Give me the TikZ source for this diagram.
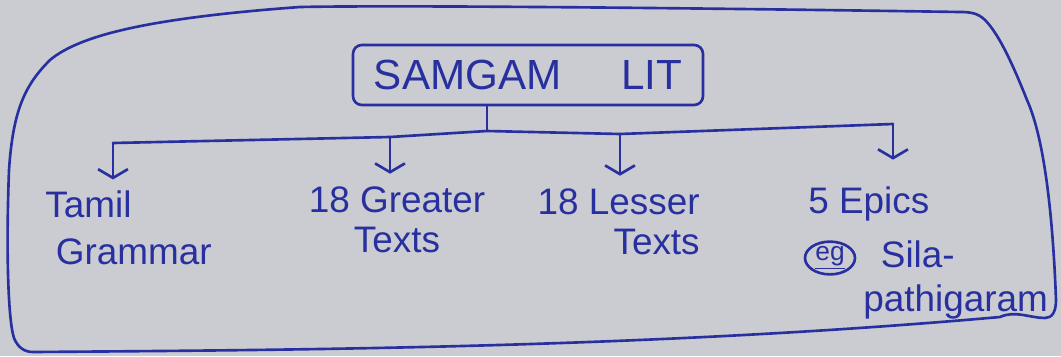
\documentclass[tikz,border=0pt]{standalone}
\usepackage{fontspec}
\setmainfont{Liberation Sans}
\usetikzlibrary{arrows.meta,shapes.geometric}
\definecolor{ink}{RGB}{40,48,160}
\definecolor{paper}{RGB}{203,204,209}
\begin{document}
\begin{tikzpicture}[x=0.02cm,y=-0.02cm,
  inkline/.style={draw=ink,line width=1.5pt,line cap=round,line join=round},
  droparrow/.style={inkline,-{Straight Barb[length=5pt,width=17pt,line width=1.5pt]}},
  hand/.style={text=ink,font=\fontsize{21}{23}\selectfont,inner sep=0pt}]
\fill[paper] (0,0) rectangle (1061,356);
\useasboundingbox (0,0) rectangle (1061,356);
% outer border
\draw[inkline] (33,352) .. controls (300,350) and (650,348) .. (1000,317)
  .. controls (1015,310) and (1030,318) .. (1045,318)
  .. controls (1052,318) and (1056,312) .. (1056,300)
  .. controls (1053,220) and (1045,140) .. (1027,100)
  .. controls (1015,70) and (1000,35) .. (985,20)
  .. controls (978,13) and (970,12) .. (960,12)
  .. controls (700,8) and (400,5) .. (300,7)
  .. controls (150,18) and (80,35) .. (50,60)
  .. controls (25,85) and (13,110) .. (9,170)
  .. controls (6,250) and (8,320) .. (14,338)
  .. controls (18,348) and (25,352) .. cycle;
% root
\node[inkline,text=ink,rounded corners=5pt,minimum width=7cm,minimum height=1.2cm,
  font=\fontsize{24}{28}\selectfont] (root) at (528,75) {SAMGAM\hspace{34pt}LIT};
% children
\node[hand,align=left,anchor=north west] (tamil) at (45,190) {Tamil\\[4pt]\hspace{6pt}Grammar};
\node[hand,align=center,anchor=north] (greater) at (397,186) {18 Greater\\Texts};
\node[hand,align=right,anchor=north east] (lesser) at (700,188) {18 Lesser\\Texts};
\node[hand,align=left,anchor=north west] (epics) at (808,186) {5 Epics};
\node[inkline,ellipse,text=ink,inner sep=0pt,minimum width=1cm,minimum height=0.52cm,
  font=\fontsize{15}{17}\selectfont] (eg) at (830,258) {\underline{eg}};
\node[hand,align=left,anchor=north west] (sila) at (863,240) {\hspace{10pt}Sila-\\[2pt]pathigaram};
% connectors
\coordinate (bL) at (113,143);
\coordinate (b2) at (390,137);
\coordinate (bS) at (487,131);
\coordinate (b3) at (620,134);
\coordinate (bR) at (893,124);
\draw[inkline] (bS |- root.south) -- (bS);
\draw[inkline] (bL) -- (b2) -- (bS) -- (b3) -- (bR);
\draw[droparrow,shorten >=6pt] (bL) -- (bL |- tamil.north);
\draw[droparrow,shorten >=7pt] (b2) -- (b2 |- greater.north);
\draw[droparrow,shorten >=7pt] (b3) -- (b3 |- lesser.north);
\draw[droparrow,shorten >=15pt] (bR) -- (bR |- epics.north);
\end{tikzpicture}
\end{document}
